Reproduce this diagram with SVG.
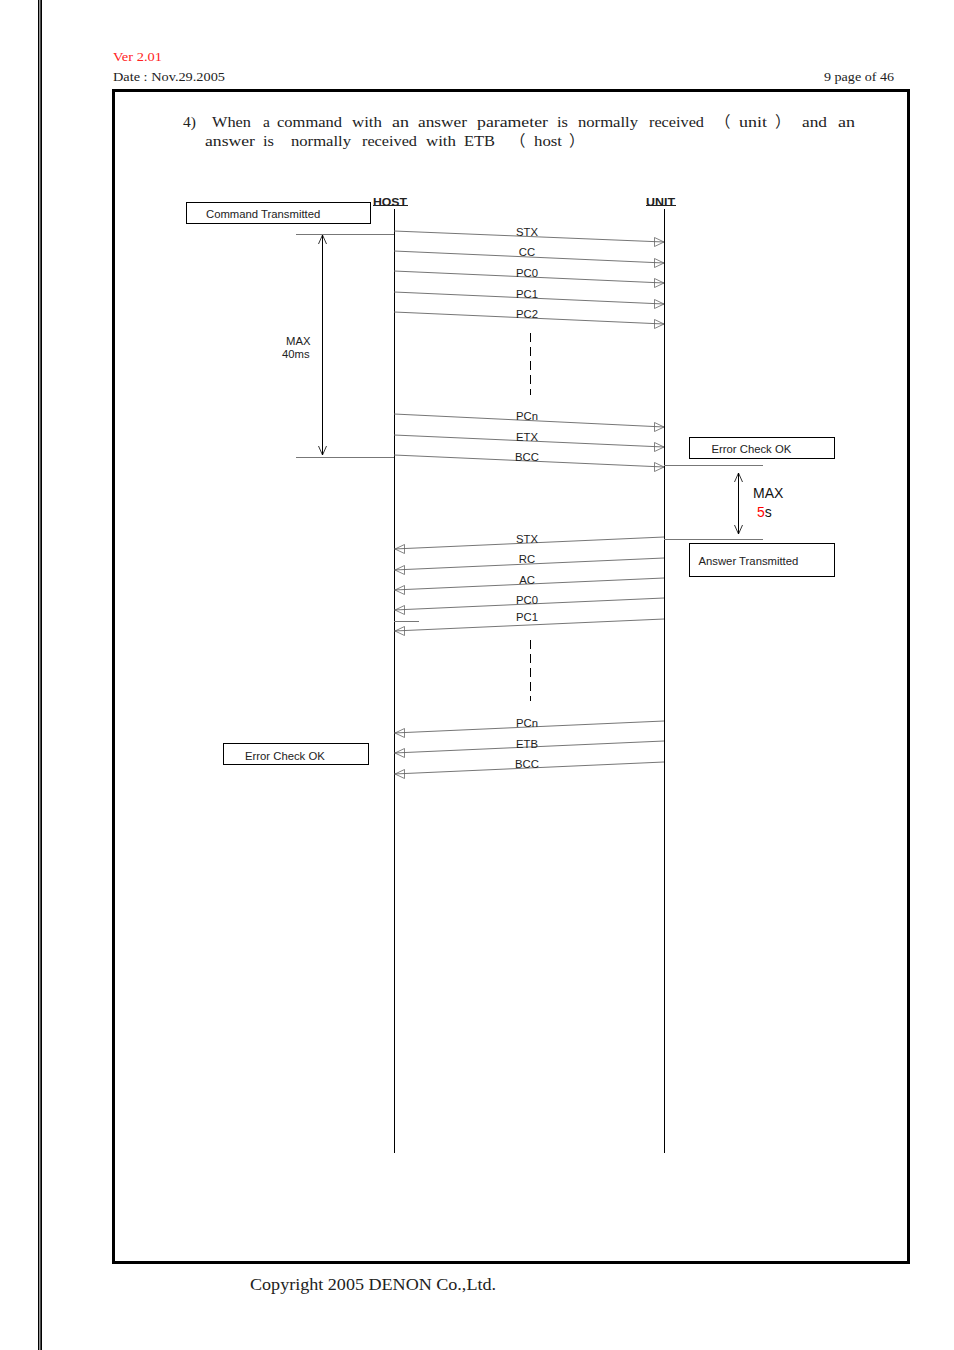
<svg xmlns="http://www.w3.org/2000/svg" width="954" height="1350" viewBox="0 0 954 1350">
<style>
.m{font-family:"Liberation Serif","Times New Roman",serif;font-size:13px;fill:#222}
.b{font-family:"Liberation Serif","Times New Roman","Noto Sans CJK JP",serif;font-size:15.5px;fill:#222}
.s{font-family:"Liberation Sans",Arial,sans-serif;font-size:11.3px;fill:#222}
.l{font-family:"Liberation Sans",Arial,sans-serif;font-size:11.3px;fill:#222;text-anchor:middle}
.h{font-family:"Liberation Sans",Arial,sans-serif;font-size:11.5px;font-weight:bold;fill:#222}
.box{fill:#fff;stroke:#000;stroke-width:1}
.life{stroke:#000;stroke-width:1;fill:none}
.msg{stroke:#666;stroke-width:.9;fill:none}
.tick{stroke:#777;stroke-width:1;fill:none}
.head{fill:none;stroke:#666;stroke-width:.8}
.dash{stroke:#000;stroke-width:1;stroke-dasharray:9 5;fill:none}
</style>
<defs>
<marker id="open" markerUnits="userSpaceOnUse" markerWidth="12" markerHeight="12" refX="10" refY="5" orient="auto-start-reverse"><path d="M1 1 L10 5 L1 9" fill="none" stroke="#000" stroke-width=".8"/></marker>
</defs>
<g id="page">
<rect x="38" y="0" width="1.4" height="1350" fill="#000"/>
<rect x="40.3" y="0" width="1.7" height="1350" fill="#000"/>
<rect x="113.5" y="90.5" width="795" height="1172" fill="none" stroke="#000" stroke-width="3"/>
<text x="113" y="61" class="m" style="fill:#f22" textLength="49" lengthAdjust="spacingAndGlyphs">Ver 2.01</text>
<text x="113" y="81" class="m" textLength="112" lengthAdjust="spacingAndGlyphs">Date : Nov.29.2005</text>
<text x="824" y="81" class="m" textLength="70" lengthAdjust="spacingAndGlyphs">9 page of 46</text>
<text x="250" y="1290" class="b" style="font-size:16px" textLength="246" lengthAdjust="spacingAndGlyphs">Copyright 2005 DENON Co.,Ltd.</text>
<g class="b">
<text x="183" y="127">4)</text><text x="212" y="127" textLength="39" lengthAdjust="spacingAndGlyphs">When</text><text x="263" y="127">a</text><text x="277" y="127" textLength="65" lengthAdjust="spacingAndGlyphs">command</text><text x="352" y="127" textLength="30" lengthAdjust="spacingAndGlyphs">with</text><text x="392" y="127" textLength="17" lengthAdjust="spacingAndGlyphs">an</text><text x="418" y="127" textLength="49" lengthAdjust="spacingAndGlyphs">answer</text><text x="477" y="127" textLength="71" lengthAdjust="spacingAndGlyphs">parameter</text><text x="557" y="127" textLength="11" lengthAdjust="spacingAndGlyphs">is</text><text x="578" y="127" textLength="60" lengthAdjust="spacingAndGlyphs">normally</text><text x="649" y="127" textLength="55" lengthAdjust="spacingAndGlyphs">received</text><text x="715" y="127">（</text><text x="739" y="127" textLength="28" lengthAdjust="spacingAndGlyphs">unit</text><text x="775" y="127">）</text><text x="802" y="127" textLength="25" lengthAdjust="spacingAndGlyphs">and</text><text x="838" y="127" textLength="17" lengthAdjust="spacingAndGlyphs">an</text>
<text x="205" y="146" textLength="50" lengthAdjust="spacingAndGlyphs">answer</text><text x="263" y="146" textLength="11" lengthAdjust="spacingAndGlyphs">is</text><text x="291" y="146" textLength="60" lengthAdjust="spacingAndGlyphs">normally</text><text x="362" y="146" textLength="55" lengthAdjust="spacingAndGlyphs">received</text><text x="426" y="146" textLength="30" lengthAdjust="spacingAndGlyphs">with</text><text x="464" y="146" textLength="31" lengthAdjust="spacingAndGlyphs">ETB</text><text x="510" y="146">（</text><text x="534" y="146" textLength="28" lengthAdjust="spacingAndGlyphs">host</text><text x="569" y="146">）</text>
</g>
</g>
<g id="connectors">
<path class="life" d="M394.500 209V1153M664.500 209V1153"/>
<path class="tick" d="M296 234.500H394M296 457.500H394M664 465.500H763M664 539.500H763M394 621.500H419"/>
<path d="M322.500 235V455" stroke="#000" fill="none" marker-start="url(#open)" marker-end="url(#open)"/>
<path d="M738.500 473V534" stroke="#000" fill="none" marker-start="url(#open)" marker-end="url(#open)"/>
<path class="dash" d="M530.500 333V395M530.500 640V701"/>
<g id="requests">
<path class="msg" d="M394 231L664 242M394 251L664 263M394 271L664 283M394 292L664 304M394 312L664 324M394 414L664 427M394 435L664 447M394 455L664 467"/>
<path class="head" d="M664 242L654.500 237.500V246.500ZM664 263L654.500 258.500V267.500ZM664 283L654.500 278.500V287.500ZM664 304L654.500 299.500V308.500ZM664 324L654.500 319.500V328.500ZM664 427L654.500 422.500V431.500ZM664 447L654.500 442.500V451.500ZM664 467L654.500 462.500V471.500Z"/>
</g>
<g id="responses">
<path class="msg" d="M664 537L394 549M664 558L394 570M664 578L394 590M664 598L394 610M664 619L394 631M664 721L394 733M664 741L394 753M664 762L394 774"/>
<path class="head" d="M395 549L404.500 544.500V553.500ZM395 570L404.500 565.500V574.500ZM395 590L404.500 585.500V594.500ZM395 610L404.500 605.500V614.500ZM395 631L404.500 626.500V635.500ZM395 733L404.500 728.500V737.500ZM395 753L404.500 748.500V757.500ZM395 774L404.500 769.500V778.500Z"/>
</g>
</g>
<g id="labels">
<text class="l" x="527" y="236">STX</text><text class="l" x="527" y="256">CC</text><text class="l" x="527" y="277">PC0</text><text class="l" x="527" y="298">PC1</text><text class="l" x="527" y="318">PC2</text><text class="l" x="527" y="420">PCn</text><text class="l" x="527" y="441">ETX</text><text class="l" x="527" y="461">BCC</text>
<text class="l" x="527" y="543">STX</text><text class="l" x="527" y="563">RC</text><text class="l" x="527" y="584">AC</text><text class="l" x="527" y="604">PC0</text><text class="l" x="527" y="621">PC1</text><text class="l" x="527" y="727">PCn</text><text class="l" x="527" y="748">ETB</text><text class="l" x="527" y="768">BCC</text>
<text class="s" x="286" y="345">MAX</text><text class="s" x="282" y="358">40ms</text>
<text x="753" y="498" style="font-family:'Liberation Sans',Arial,sans-serif;font-size:14px;fill:#111">MAX</text>
<text x="757" y="517" style="font-family:'Liberation Sans',Arial,sans-serif;font-size:14px;fill:#111"><tspan fill="#f00">5</tspan>s</text>
</g>
<g id="host"><text class="h" x="373" y="205.500" textLength="34" lengthAdjust="spacingAndGlyphs">HOST</text><path d="M373 205.500H408" stroke="#222" fill="none"/></g>
<g id="unit"><text class="h" x="646" y="205.500" textLength="29" lengthAdjust="spacingAndGlyphs">UNIT</text><path d="M646 205.500H676" stroke="#222" fill="none"/></g>
<g id="command-transmitted"><rect class="box" x="186.500" y="202.500" width="184" height="21"/><text class="s" x="206" y="218">Command Transmitted</text></g>
<g id="error-check-unit"><rect class="box" x="689.500" y="437.500" width="145" height="21"/><text class="s" x="711.500" y="453">Error Check OK</text></g>
<g id="answer-transmitted"><rect class="box" x="689.500" y="543.500" width="145" height="33"/><text class="s" x="698.500" y="565">Answer Transmitted</text></g>
<g id="error-check-host"><rect class="box" x="223.500" y="743.500" width="145" height="21"/><text class="s" x="245" y="760">Error Check OK</text></g>
</svg>
